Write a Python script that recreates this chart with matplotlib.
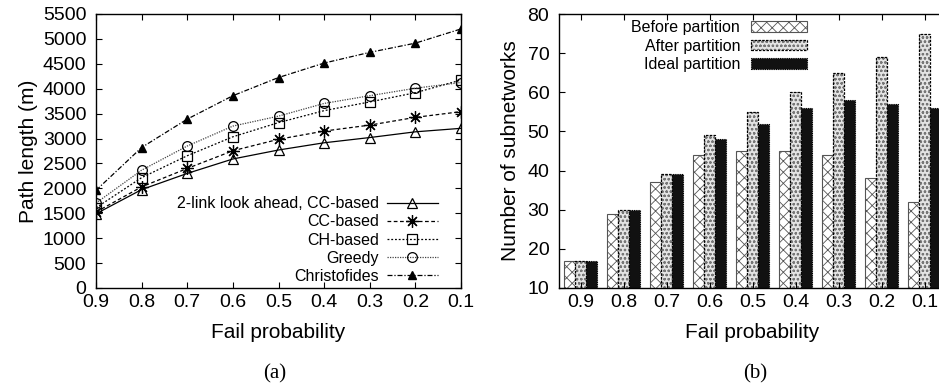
import matplotlib
matplotlib.use("Agg")
import matplotlib.pyplot as plt
from matplotlib import font_manager

# ======================== data ========================
fail_prob = [0.9, 0.8, 0.7, 0.6, 0.5, 0.4, 0.3, 0.2, 0.1]
fail_labels = ["0.9", "0.8", "0.7", "0.6", "0.5", "0.4", "0.3", "0.2", "0.1"]

# (a) path length (m)
two_link = [1490, 1975, 2300, 2590, 2770, 2915, 3020, 3135, 3205]
cc_based = [1525, 2030, 2400, 2755, 2985, 3150, 3270, 3425, 3540]
ch_based = [1610, 2215, 2655, 3035, 3320, 3560, 3735, 3920, 4175]
greedy = [1705, 2365, 2850, 3250, 3450, 3705, 3860, 4010, 4125]
christofides = [1960, 2820, 3390, 3860, 4225, 4515, 4730, 4915, 5200]

# (b) number of subnetworks
before_part = [17, 29, 37, 44, 45, 45, 44, 38, 32]
after_part = [17, 30, 39, 49, 55, 60, 65, 69, 75]
ideal_part = [17, 30, 39, 48, 52, 56, 58, 57, 56]

# ======================== fonts ========================
names = {f.name for f in font_manager.fontManager.ttflist}
SANS = "Liberation Sans" if "Liberation Sans" in names else "DejaVu Sans"
plt.rcParams["font.family"] = [SANS, "DejaVu Sans"]
plt.rcParams["hatch.linewidth"] = 0.6

W, H = 939, 392
fig = plt.figure(figsize=(W / 100, H / 100), dpi=100)


def px_axes(x0, y0, x1, y1):
    return fig.add_axes([x0 / W, 1 - y1 / H, (x1 - x0) / W, (y1 - y0) / H])


def style_axes(ax):
    ax.tick_params(direction="in", top=True, right=True, length=4, width=0.8,
                   labelsize=14, colors="black")
    ax.tick_params(axis="x", pad=4)
    ax.tick_params(axis="y", pad=7)
    for s in ax.spines.values():
        s.set_linewidth(1.0)


# ---------------- (a) ----------------
ax1 = px_axes(96, 14, 461, 288)
lw = 0.9
ax1.plot(fail_prob, two_link, color="black", lw=lw, ls="-", marker="^",
         ms=7, mfc="none", mec="black", mew=0.9,
         label="2-link look ahead, CC-based")
ax1.plot(fail_prob, cc_based, color="black", lw=lw, ls=(0, (3, 2)), marker=(8, 2, 0),
         ms=9, mec="black", mew=0.9, label="CC-based")
ax1.plot(fail_prob, ch_based, color="black", lw=lw, ls=(0, (1.5, 1.5)), marker="s",
         ms=7, mfc="none", mec="black", mew=0.9, label="CH-based")
ax1.plot(fail_prob, greedy, color="#444444", lw=lw, ls=(0, (1, 1)), marker="o",
         ms=7, mfc="none", mec="black", mew=0.9, label="Greedy")
ax1.plot(fail_prob, christofides, color="black", lw=lw, ls=(0, (4, 1.5, 1, 1.5)),
         marker="^", ms=6, mfc="black", mec="black", label="Christofides")

ax1.set_xlim(0.9, 0.1)
ax1.set_ylim(0, 5500)
ax1.set_xticks(fail_prob)
ax1.set_xticklabels(fail_labels)
ax1.set_yticks(range(0, 5501, 500))
ax1.set_ylabel("Path length (m)", fontsize=15, labelpad=3)
ax1.set_xlabel("Fail probability", fontsize=15, labelpad=9)
style_axes(ax1)
ax1.legend(loc="lower right", bbox_to_anchor=(0.963, -0.02), frameon=False,
           markerfirst=False, fontsize=11.5, handlelength=3.2, labelspacing=0.2,
           handletextpad=0.5, borderaxespad=0.2)

# ---------------- (b) ----------------
ax2 = px_axes(559, 14, 946, 288)
idx = list(range(len(fail_prob)))
bw = 0.25
h_before = ax2.bar([i - bw for i in idx], before_part, width=bw, color="white",
                   edgecolor="#555555", hatch="xxx", lw=0.8)
h_after_fill = ax2.bar(idx, after_part, width=bw, color="#e4e4e4",
                       edgecolor="#777777", hatch="oooo", lw=0)
h_after_edge = ax2.bar(idx, after_part, width=bw, fill=False,
                       edgecolor="black", lw=0.9, ls=(0, (2, 1)))
h_ideal = ax2.bar([i + bw for i in idx], ideal_part, width=bw, color="#111111",
                  edgecolor="black", lw=0.8, ls=(0, (1, 1)))

ax2.set_xlim(-0.5, 8.5)
ax2.set_ylim(10, 80)
ax2.set_xticks(idx)
ax2.set_xticklabels(fail_labels)
ax2.set_yticks(range(10, 81, 10))
ax2.set_ylabel("Number of subnetworks", fontsize=15, labelpad=5)
ax2.set_xlabel("Fail probability", fontsize=15, labelpad=9)
style_axes(ax2)
ax2.legend([h_before, (h_after_fill, h_after_edge), h_ideal],
           ["Before partition", "After partition", "Ideal partition"],
           loc="upper left", bbox_to_anchor=(0.15, 1.03), frameon=False,
           markerfirst=False, fontsize=11.5, handlelength=3.5, handleheight=0.6,
           labelspacing=0.22, handletextpad=0.7)

# subfigure captions
fig.text(275 / W, 1 - 374 / H, "(a)", ha="center", va="center", fontsize=15,
         family=["Liberation Serif", "DejaVu Serif"])
fig.text(755 / W, 1 - 374 / H, "(b)", ha="center", va="center", fontsize=15,
         family=["Liberation Serif", "DejaVu Serif"])

fig.savefig("out.png", dpi=100)
